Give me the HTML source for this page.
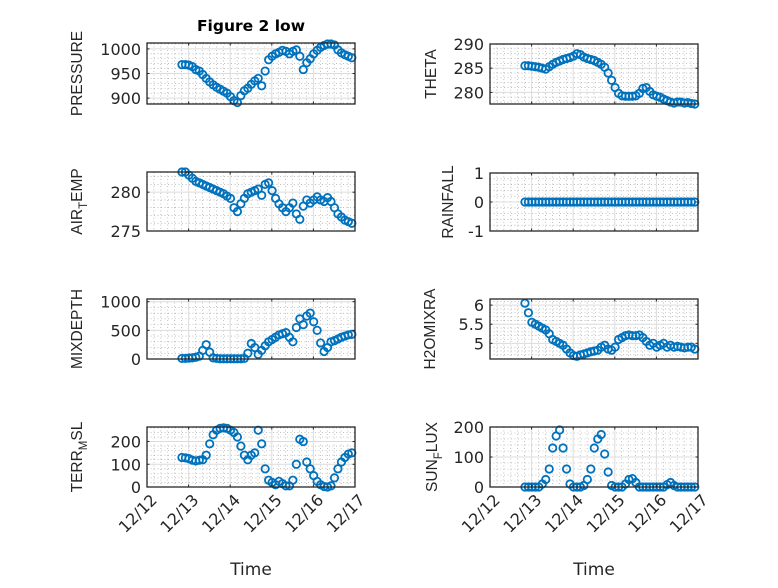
<!DOCTYPE html>
<html><head><meta charset="utf-8"><style>
body{margin:0;background:#fff}
svg text{font-family:"DejaVu Sans",sans-serif;fill:#262626}
svg text.lab{font-family:"Liberation Sans",sans-serif}
</style></head><body>
<svg id="fig" width="778" height="583" viewBox="0 0 778 583" xmlns="http://www.w3.org/2000/svg">
<rect width="778" height="583" fill="#fff"/>
<text x="251" y="31" font-size="15.5" font-weight="bold" text-anchor="middle" fill="#000" style="fill:#000">Figure 2 low</text>
</svg>
<script>
const xTickLabels = ["12/12","12/13","12/14","12/15","12/16","12/17"];
const tStart = 0.84, tStep = 1/12;
const pressure = [968,968,967,964,958,955,948,940,933,927,922,918,914,910,903,895,891,905,915,920,928,935,940,925,955,978,985,990,993,997,995,990,995,998,985,958,972,980,990,997,1003,1007,1010,1010,1008,998,992,988,985,982];
const theta = [285.5,285.5,285.4,285.3,285.2,285,284.8,285.3,285.8,286.2,286.5,286.8,287,287.2,287.5,288,287.8,287.3,287,286.8,286.6,286.2,285.8,285.2,284,282.5,281,279.8,279.3,279.2,279.2,279.2,279.3,279.8,280.8,281,280.2,279.5,279.2,279,278.6,278.3,278,277.8,278,278,277.8,277.9,277.7,277.6];
const airTemp = [282.6,282.6,282.2,281.8,281.4,281.2,281,280.8,280.6,280.4,280.2,280,279.8,279.5,279.2,278,277.5,278.5,279.2,279.8,280,280.2,280.4,279.6,281,281.2,280.2,279.2,278.5,278,277.5,278,278.6,277.2,276.5,278.2,279,278.6,279,279.4,279,278.8,279.3,278.8,278,277.2,276.8,276.4,276.2,276];
const rainfall = [0,0,0,0,0,0,0,0,0,0,0,0,0,0,0,0,0,0,0,0,0,0,0,0,0,0,0,0,0,0,0,0,0,0,0,0,0,0,0,0,0,0,0,0,0,0,0,0,0,0];
const mixDepth = [10,10,15,20,30,50,150,250,120,20,10,5,5,5,5,5,5,5,10,100,270,200,80,150,230,300,340,380,420,440,460,380,300,550,700,600,750,800,650,500,280,130,200,300,320,350,380,400,420,430];
const h2oMixRa = [6.05,5.8,5.55,5.5,5.45,5.4,5.35,5.25,5.1,5.05,5.0,4.95,4.85,4.75,4.68,4.66,4.7,4.72,4.75,4.78,4.8,4.82,4.9,4.95,4.85,4.82,4.9,5.1,5.15,5.2,5.22,5.2,5.2,5.22,5.15,5.05,4.95,5.0,4.9,4.95,5.0,4.9,4.95,4.9,4.92,4.9,4.88,4.9,4.9,4.85];
const terrMsl = [130,128,125,118,115,118,120,140,190,230,250,258,260,258,250,240,220,180,140,120,140,150,250,190,80,30,20,10,25,15,5,5,30,100,210,200,110,80,50,25,10,2,0,5,40,80,110,130,145,150];
const sunFlux = [0,0,0,0,0,10,25,60,130,170,190,130,60,10,0,0,0,5,25,60,130,160,175,110,50,5,0,0,0,10,25,28,15,0,0,0,0,0,0,0,0,8,15,5,0,0,0,0,0,0];

const panels = [
 {name:"pressure",label:["PRESSURE"],data:pressure,x0:147,y0:43,y1:104,ymin:888,ymax:1012,ticks:[900,950,1000],minor:10,lx:77},
 {name:"theta",label:["THETA"],data:theta,x0:490,y0:44,y1:104,ymin:277.6,ymax:290,ticks:[280,285,290],minor:1,lx:431},
 {name:"air-temp",label:["AIR","T","EMP"],data:airTemp,x0:147,y0:172,y1:231,ymin:275,ymax:282.6,ticks:[275,280],minor:1,lx:77},
 {name:"rainfall",label:["RAINFALL"],data:rainfall,x0:490,y0:173,y1:231,ymin:-1,ymax:1,ticks:[-1,0,1],minor:0.2,lx:448},
 {name:"mixdepth",label:["MIXDEPTH"],data:mixDepth,x0:147,y0:299,y1:359,ymin:0,ymax:1047,ticks:[0,500,1000],minor:100,lx:77},
 {name:"h2omixra",label:["H2OMIXRA"],data:h2oMixRa,x0:490,y0:299,y1:359,ymin:4.59,ymax:6.16,ticks:[5,5.5,6],minor:0.1,lx:430},
 {name:"terr-msl",label:["TERR","M","SL"],data:terrMsl,x0:147,y0:427,y1:487,ymin:0,ymax:264,ticks:[0,100,200],minor:20,lx:77,xl:true},
 {name:"sun-flux",label:["SUN","F","LUX"],data:sunFlux,x0:490,y0:427,y1:487,ymin:0,ymax:200,ticks:[0,100,200],minor:20,lx:432,xl:true}
];
const W = 208, NS = "http://www.w3.org/2000/svg";
const svg = document.getElementById('fig');
function mk(tag, attrs, parent){const e=document.createElementNS(NS,tag);for(const k in attrs)e.setAttribute(k,attrs[k]);(parent||svg).appendChild(e);return e;}
panels.forEach(p=>{
  const g = mk('g',{});
  
  
  const xs = d => p.x0 + d/5*W;
  const ys = v => p.y1 - (v-p.ymin)/(p.ymax-p.ymin)*(p.y1-p.y0);
  for(let k=1;k<30;k++){ if(k%6===0) continue; const x=xs(k/6);
    mk('line',{x1:x,x2:x,y1:p.y0,y2:p.y1,stroke:'#999','stroke-width':0.6,'stroke-dasharray':'1 2.5'},g);}
  const m0 = Math.ceil(p.ymin/p.minor);
  for(let k=m0;k*p.minor<=p.ymax+1e-9;k++){ const v=k*p.minor; if(p.ticks.some(t=>Math.abs(t-v)<1e-6)) continue;
    const y=ys(v); mk('line',{x1:p.x0,x2:p.x0+W,y1:y,y2:y,stroke:'#999','stroke-width':0.6,'stroke-dasharray':'1 2.5'},g);}
  for(let d=1;d<5;d++){const x=xs(d); mk('line',{x1:x,x2:x,y1:p.y0,y2:p.y1,stroke:'#dcdcdc','stroke-width':1},g);}
  p.ticks.forEach(t=>{const y=ys(t); mk('line',{x1:p.x0,x2:p.x0+W,y1:y,y2:y,stroke:'#dcdcdc','stroke-width':1},g);});
  const sg = mk('g',{},g);
  
  
  p.data.forEach((v,i)=>{
    const c = mk('circle',{cx:xs(tStart+i*tStep),cy:ys(v),r:3.7,fill:'none',stroke:'#0072BD','stroke-width':1.8},sg);
    
    
  });
  mk('rect',{x:p.x0,y:p.y0,width:W,height:p.y1-p.y0,fill:'none',stroke:'#262626','stroke-width':1.3},g);
  for(let d=1;d<5;d++){const x=xs(d); mk('line',{x1:x,x2:x,y1:p.y1,y2:p.y1-2.5,stroke:'#262626'},g); mk('line',{x1:x,x2:x,y1:p.y0,y2:p.y0+2.5,stroke:'#262626'},g);}
  p.ticks.forEach(t=>{const y=ys(t);
    mk('line',{x1:p.x0,x2:p.x0+2.5,y1:y,y2:y,stroke:'#262626'},g);
    mk('line',{x1:p.x0+W,x2:p.x0+W-2.5,y1:y,y2:y,stroke:'#262626'},g);
    const tx = mk('text',{x:p.x0-6,y:y+6,'font-size':16,'text-anchor':'end'},g);
    
    
    tx.textContent = String(t);
  });
  const cy = (p.y0+p.y1)/2;
  const yl = mk('text',{class:'lab',x:0,y:0,'font-size':15.5,'text-anchor':'middle',transform:`translate(${p.lx+5},${cy}) rotate(-90)`},g);
  
  
  p.label.forEach((s,j)=>{const ts=mk('tspan',{},yl); ts.textContent=s;
    if(j===1){ts.setAttribute('font-size',11.5);ts.setAttribute('dy',5);} if(j===2){ts.setAttribute('dy',-5);} });
  if(p.xl){
    xTickLabels.forEach((s,d)=>{const x=xs(d);
      const tx=mk('text',{x:0,y:0,'font-size':16,'text-anchor':'end',transform:`translate(${x+11},${p.y1+14}) rotate(-45)`},g);
      
      
      tx.textContent=s;});
    const xt=mk('text',{x:p.x0+W/2,y:575,'font-size':17,'text-anchor':'middle'},g);
    
    
    xt.textContent='Time';
  }
});
</script>
</body></html>
